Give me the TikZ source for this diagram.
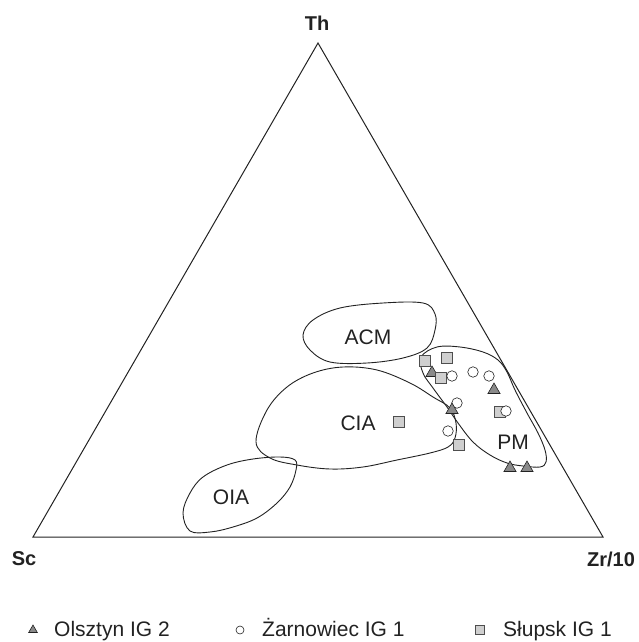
\documentclass[tikz,border=0pt]{standalone}
\usepackage{fontspec}
\setmainfont{Liberation Sans}
\usetikzlibrary{shapes.geometric}
\definecolor{lineclr}{HTML}{222222}
\definecolor{trifill}{HTML}{8A8A8A}
\definecolor{sqfill}{HTML}{CFCFCF}
\tikzset{
  field/.style={draw=lineclr, line width=0.9pt},
  tri/.style={regular polygon, regular polygon sides=3, draw=lineclr, fill=trifill, line width=0.6pt, inner sep=0pt, minimum size=14pt},
  sq/.style={rectangle, draw=lineclr!80, fill=sqfill, line width=0.6pt, inner sep=0pt, minimum size=10.5pt},
  circ/.style={circle, draw=lineclr, fill=white, line width=0.6pt, inner sep=0pt, minimum size=10.5pt},
  ltri/.style={tri, minimum size=10pt},
  lsq/.style={sq, minimum size=8.5pt},
  lcirc/.style={circ, minimum size=8pt},
  fieldlbl/.style={font=\fontsize{21}{24}\selectfont, text=lineclr},
  corner/.style={font=\fontsize{20}{24}\selectfont\bfseries, text=lineclr},
  legtxt/.style={font=\fontsize{21}{24}\selectfont, text=lineclr, anchor=base west, inner sep=0pt}
}
\begin{document}
\begin{tikzpicture}[x=1pt,y=-1pt]
\useasboundingbox (0,0) rectangle (639,642);
% ternary frame
\coordinate (Th) at (318,43);
\coordinate (Sc) at (33,537);
\coordinate (Zr) at (603,537);
\draw[draw=lineclr, line width=1pt, line join=miter] (Th) -- (Sc) -- (Zr) -- cycle;
\node[corner] (lTh) at (317,23) {Th};
\node[corner] (lSc) at (24,559) {Sc};
\node[corner] (lZr) at (611,559) {Zr/10};
% fields
\draw[field] plot[smooth cycle, tension=0.6] coordinates {
 (303,335) (313,320) (340,308) (383,303) (423,303) (435,314) (435,330)
 (427,348) (403,358) (367,363) (330,362) (310,350)};
\draw[field] plot[smooth cycle, tension=0.6] coordinates {
 (256,442) (267,410) (287,387) (313,373) (343,367) (377,370) (410,383)
 (433,397) (450,408) (456,423) (455,438) (448,447) (430,453) (397,460)
 (363,467) (330,469) (297,465) (270,458)};
\draw[field] plot[smooth cycle, tension=0.6] coordinates {
 (183,513) (190,493) (203,477) (227,465) (253,459) (280,457) (295,460)
 (296,470) (290,487) (277,503) (257,518) (233,527) (210,532) (190,531)};
\draw[field] plot[smooth cycle, tension=0.6] coordinates {
 (421,357) (437,347) (460,347) (483,352) (498,360) (507,372) (515,390)
 (527,413) (538,433) (545,450) (546,462) (540,467) (523,466) (507,463)
 (490,455) (473,442) (458,423) (447,407) (433,388) (423,373)};
\node[fieldlbl] (lACM) at (368,337) {ACM};
\node[fieldlbl] (lCIA) at (358,423) {CIA};
\node[fieldlbl] (lOIA) at (231,497) {OIA};
\node[fieldlbl] (lPM)  at (513,442) {PM};
% data: Olsztyn IG 2 (triangles)
\node[tri] (t1) at (432,373) {};
\node[tri] (t2) at (494,390) {};
\node[tri] (t4) at (510,468) {};
\node[tri] (t5) at (527,468) {};
% data: Slupsk IG 1 (squares)
\node[sq] (s1) at (425,361) {};
\node[sq] (s2) at (447,358) {};
\node[sq] (s3) at (441,378) {};
\node[sq] (s4) at (500,412) {};
\node[sq] (s5) at (459,445) {};
\node[sq] (s6) at (399,422) {};
% data: Zarnowiec IG 1 (circles)
\node[circ] (c1) at (452,376) {};
\node[circ] (c2) at (473,372) {};
\node[circ] (c3) at (489,376) {};
\node[circ] (c4) at (457,403) {};
\node[circ] (c5) at (506,411) {};
\node[circ] (c6) at (448,431) {};
\node[tri] (t3) at (452,410) {};
% legend
\node[ltri] (k1) at (33,630) {};
\node[legtxt] (k1t) at (54,636) {Olsztyn IG 2};
\node[lcirc] (k2) at (240,630) {};
\node[legtxt] (k2t) at (262,636) {Żarnowiec IG 1};
\node[lsq] (k3) at (480,630) {};
\node[legtxt] (k3t) at (503,636) {Słupsk IG 1};
\end{tikzpicture}
\end{document}
